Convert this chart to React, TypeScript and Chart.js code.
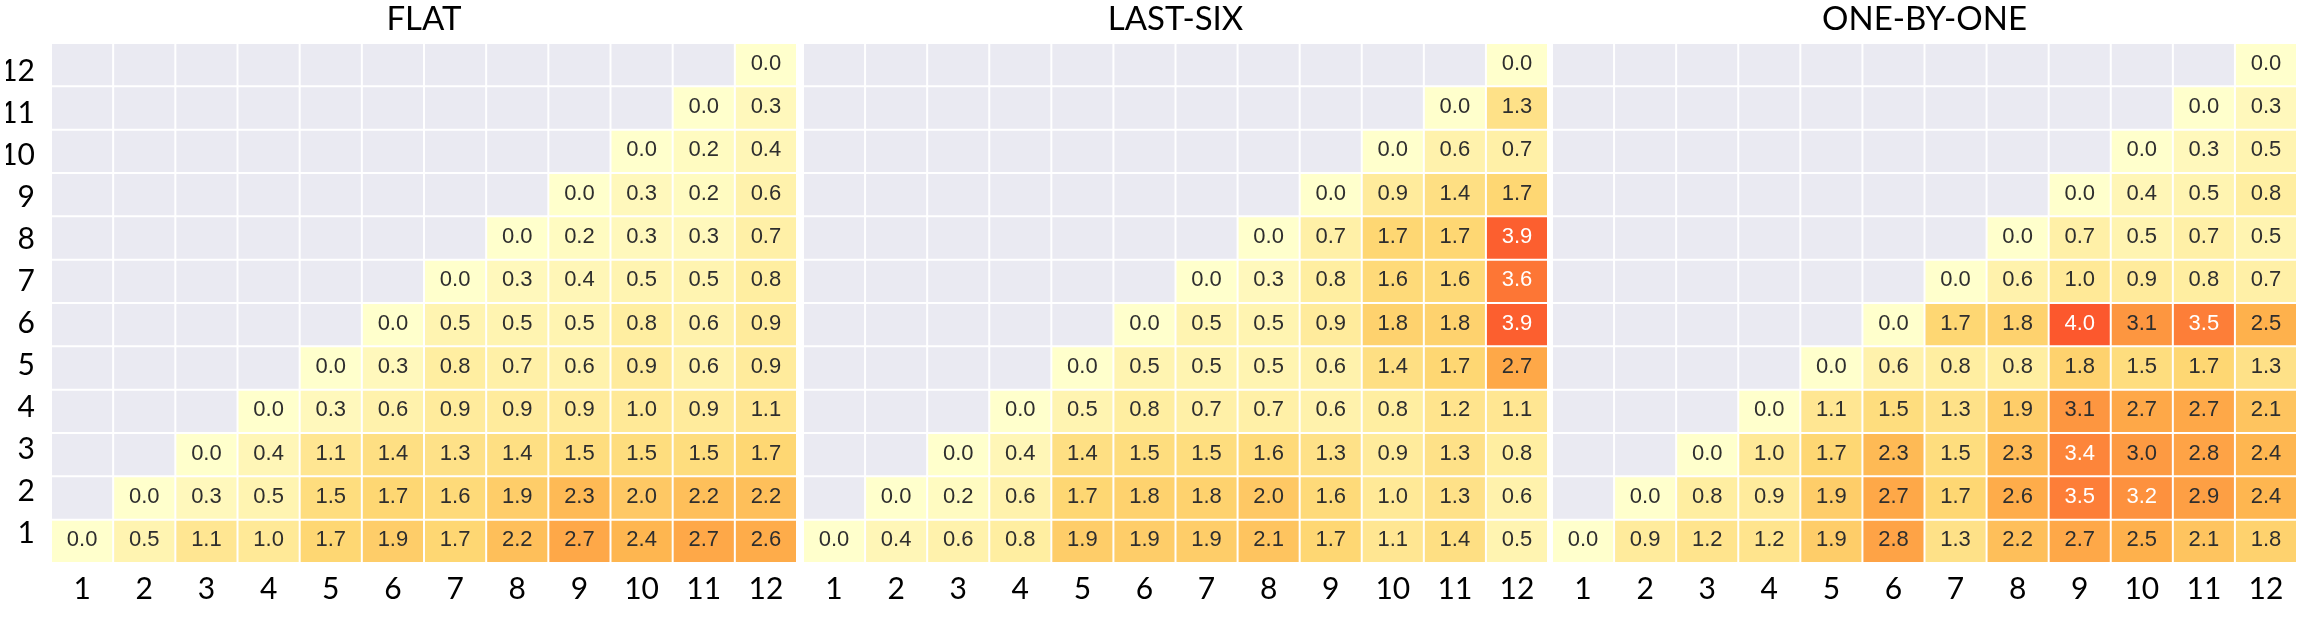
import React, { useEffect, useRef } from 'react';
import { Chart, registerables } from 'chart.js';

Chart.register(...registerables);

// ---- data ----
const colLabels = ['1', '2', '3', '4', '5', '6', '7', '8', '9', '10', '11', '12'];
const rowLabels = ['1', '2', '3', '4', '5', '6', '7', '8', '9', '10', '11', '12'];
const panelTitles = ['FLAT', 'LAST-SIX', 'ONE-BY-ONE'];

// each row r (1..12) lists the values for columns r..12
const flatRows: number[][] = [
  [0.0, 0.5, 1.1, 1.0, 1.7, 1.9, 1.7, 2.2, 2.7, 2.4, 2.7, 2.6],
  [0.0, 0.3, 0.5, 1.5, 1.7, 1.6, 1.9, 2.3, 2.0, 2.2, 2.2],
  [0.0, 0.4, 1.1, 1.4, 1.3, 1.4, 1.5, 1.5, 1.5, 1.7],
  [0.0, 0.3, 0.6, 0.9, 0.9, 0.9, 1.0, 0.9, 1.1],
  [0.0, 0.3, 0.8, 0.7, 0.6, 0.9, 0.6, 0.9],
  [0.0, 0.5, 0.5, 0.5, 0.8, 0.6, 0.9],
  [0.0, 0.3, 0.4, 0.5, 0.5, 0.8],
  [0.0, 0.2, 0.3, 0.3, 0.7],
  [0.0, 0.3, 0.2, 0.6],
  [0.0, 0.2, 0.4],
  [0.0, 0.3],
  [0.0],
];

const lastSixRows: number[][] = [
  [0.0, 0.4, 0.6, 0.8, 1.9, 1.9, 1.9, 2.1, 1.7, 1.1, 1.4, 0.5],
  [0.0, 0.2, 0.6, 1.7, 1.8, 1.8, 2.0, 1.6, 1.0, 1.3, 0.6],
  [0.0, 0.4, 1.4, 1.5, 1.5, 1.6, 1.3, 0.9, 1.3, 0.8],
  [0.0, 0.5, 0.8, 0.7, 0.7, 0.6, 0.8, 1.2, 1.1],
  [0.0, 0.5, 0.5, 0.5, 0.6, 1.4, 1.7, 2.7],
  [0.0, 0.5, 0.5, 0.9, 1.8, 1.8, 3.9],
  [0.0, 0.3, 0.8, 1.6, 1.6, 3.6],
  [0.0, 0.7, 1.7, 1.7, 3.9],
  [0.0, 0.9, 1.4, 1.7],
  [0.0, 0.6, 0.7],
  [0.0, 1.3],
  [0.0],
];

const oneByOneRows: number[][] = [
  [0.0, 0.9, 1.2, 1.2, 1.9, 2.8, 1.3, 2.2, 2.7, 2.5, 2.1, 1.8],
  [0.0, 0.8, 0.9, 1.9, 2.7, 1.7, 2.6, 3.5, 3.2, 2.9, 2.4],
  [0.0, 1.0, 1.7, 2.3, 1.5, 2.3, 3.4, 3.0, 2.8, 2.4],
  [0.0, 1.1, 1.5, 1.3, 1.9, 3.1, 2.7, 2.7, 2.1],
  [0.0, 0.6, 0.8, 0.8, 1.8, 1.5, 1.7, 1.3],
  [0.0, 1.7, 1.8, 4.0, 3.1, 3.5, 2.5],
  [0.0, 0.6, 1.0, 0.9, 0.8, 0.7],
  [0.0, 0.7, 0.5, 0.7, 0.5],
  [0.0, 0.4, 0.5, 0.8],
  [0.0, 0.3, 0.5],
  [0.0, 0.3],
  [0.0],
];

// ---- styling ----
const GRAY = '#eaeaf2';
const YLORRD = ['#ffffcc', '#ffeda0', '#fed976', '#feb24c', '#fd8d3c', '#fc4e2a', '#e31a1c', '#bd0026', '#800026'];
const VMAX = 6.6;
const WHITE_TEXT_ABOVE = 3.15;

function hexToRgb(h: string) {
  const n = parseInt(h.slice(1), 16);
  return [(n >> 16) & 255, (n >> 8) & 255, n & 255];
}

function cmap(v: number) {
  const t = Math.max(0, Math.min(1, v / VMAX));
  const pos = t * (YLORRD.length - 1);
  const i = Math.min(YLORRD.length - 2, Math.floor(pos));
  const f = pos - i;
  const a = hexToRgb(YLORRD[i]);
  const b = hexToRgb(YLORRD[i + 1]);
  const c = a.map((x, k) => Math.round(x + (b[k] - x) * f));
  return `rgb(${c[0]},${c[1]},${c[2]})`;
}

function toGrid(rows: number[][]) {
  return rows.map((vals, r) => colLabels.map((_, c) => (c >= r ? vals[c - r] : null)));
}

const cellTextPlugin = {
  id: 'cellText',
  afterDatasetsDraw(chart: any) {
    const ctx = chart.ctx;
    ctx.save();
    ctx.font = '22px "Liberation Sans", Arial, sans-serif';
    ctx.textAlign = 'center';
    ctx.textBaseline = 'middle';
    chart.data.datasets.forEach((ds: any, i: number) => {
      const meta = chart.getDatasetMeta(i);
      meta.data.forEach((el: any, j: number) => {
        const v = ds.values[j];
        if (v == null) return;
        const p = el.getProps(['x', 'y', 'base'], true);
        ctx.fillStyle = v > WHITE_TEXT_ABOVE ? '#ffffff' : '#2e2e2e';
        ctx.fillText(v.toFixed(1), p.x, (p.y + p.base) / 2 - 1);
      });
    });
    ctx.restore();
  },
};

function makeConfig(title: string, rows: number[][], showY: boolean, padL: number, padR: number): any {
  const grid = toGrid(rows);
  const datasets = grid.map((rowVals, r) => ({
    label: rowLabels[r],
    data: rowVals.map(() => 1),
    values: rowVals,
    backgroundColor: rowVals.map((v) => (v == null ? GRAY : cmap(v))),
    borderColor: '#ffffff',
    borderWidth: 1,
    borderSkipped: false,
    barPercentage: 1,
    categoryPercentage: 1,
    inflateAmount: 0,
    yAxisID: 'y',
  }));

  const scales: any = {
    x: {
      type: 'category',
      stacked: true,
      grid: { display: false, drawTicks: false },
      border: { display: false },
      ticks: {
        font: { family: 'Lato', size: 30 },
        color: '#000000',
        padding: 8,
        maxRotation: 0,
        autoSkip: false,
      },
    },
    y: {
      type: 'linear',
      stacked: true,
      min: 0,
      max: 12,
      display: false,
    },
  };
  if (showY) {
    scales.yl = {
      type: 'linear',
      position: 'left',
      display: true,
      min: 0.3,
      max: 12.68,
      grid: { display: false, drawTicks: false },
      border: { display: false },
      afterBuildTicks: (ax: any) => {
        ax.ticks = rowLabels.map((_, i) => ({ value: i + 1 }));
      },
      afterFit: (s: any) => {
        s.width = 45;
      },
      ticks: {
        font: { family: 'Lato', size: 30 },
        color: '#000000',
        padding: 16,
        callback: (v: any) => rowLabels[Math.round(v) - 1],
      },
    };
  }

  return {
    type: 'bar',
    data: { labels: colLabels, datasets },
    options: {
      responsive: false,
      animation: false,
      devicePixelRatio: 1,
      layout: { padding: { left: padL, right: padR, top: 0, bottom: 4 } },
      scales,
      plugins: {
        legend: { display: false },
        tooltip: { enabled: false },
        title: {
          display: true,
          text: title,
          fullSize: false,
          color: '#000000',
          font: { family: 'Lato', size: 33, weight: 'normal' },
          padding: { top: 0, bottom: 3.4 },
        },
      },
    },
    plugins: [cellTextPlugin],
  };
}

const panels = [
  { title: panelTitles[0], rows: flatRows, showY: true, left: 0, width: 800, padL: 6, padR: 3 },
  { title: panelTitles[1], rows: lastSixRows, showY: false, left: 800, width: 750, padL: 3, padR: 2 },
  { title: panelTitles[2], rows: oneByOneRows, showY: false, left: 1550, width: 753, padL: 2, padR: 6 },
];

function Panel(props: any) {
  const ref = useRef<HTMLCanvasElement>(null);
  useEffect(() => {
    let chart: Chart | null = null;
    let cancelled = false;
    const fontsReady = (document as any).fonts
      ? Promise.all([
          (document as any).fonts.load('30px Lato'),
          (document as any).fonts.load('22px "Liberation Sans"'),
        ]).catch(() => null)
      : Promise.resolve(null);
    fontsReady.then(() => {
      if (cancelled || !ref.current) return;
      chart = new Chart(ref.current, makeConfig(props.title, props.rows, props.showY, props.padL, props.padR));
    });
    return () => {
      cancelled = true;
      if (chart) chart.destroy();
    };
  }, []);
  return (
    <div style={{ position: 'absolute', left: props.left, top: 0, width: props.width, height: 619 }}>
      <canvas ref={ref} width={props.width} height={619} style={{ display: 'block' }} />
    </div>
  );
}

export default function App() {
  return (
    <div style={{ position: 'absolute', left: 0, top: 0, width: 2303, height: 619, background: '#ffffff' }}>
      {panels.map((p) => (
        <Panel key={p.title} {...p} />
      ))}
    </div>
  );
}
